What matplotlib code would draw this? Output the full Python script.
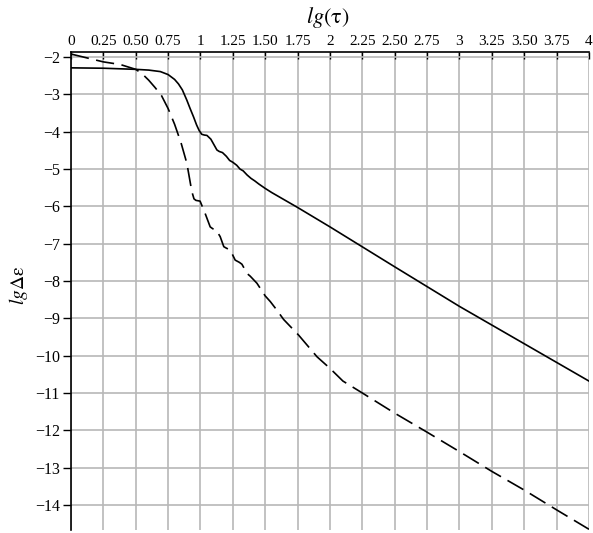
import numpy as np
import matplotlib.pyplot as plt

plt.rcParams['font.family'] = ['Liberation Serif', 'DejaVu Serif']
plt.rcParams['mathtext.fontset'] = 'stix'

# solid curve
x_solid = [0, 0.25, 0.5, 0.6, 0.69, 0.75, 0.8, 0.83, 0.86, 0.894, 0.92, 0.946, 0.97, 0.99,
           1.01, 1.03, 1.05, 1.08, 1.127, 1.145, 1.17, 1.2, 1.225, 1.25, 1.28, 1.305,
           1.33, 1.36, 1.39, 1.42, 1.45, 1.5, 1.55, 1.6, 1.65, 1.7, 1.75,
           2.0, 2.5, 3.0, 3.5, 4.0]
y_solid = [-2.29, -2.30, -2.33, -2.35, -2.39, -2.47, -2.6, -2.72, -2.88, -3.15, -3.38, -3.6, -3.82, -3.97,
           -4.07, -4.09, -4.1, -4.2, -4.49, -4.53, -4.56, -4.66, -4.77, -4.82, -4.9, -5.0,
           -5.05, -5.16, -5.25, -5.32, -5.4, -5.52, -5.63, -5.73, -5.83, -5.93, -6.03,
           -6.55, -7.62, -8.68, -9.68, -10.68]

# dashed curve
x_dash = [0, 0.25, 0.38, 0.5, 0.55, 0.6, 0.65, 0.7, 0.75, 0.8, 0.85, 0.895, 0.933,
          0.95, 0.965, 0.997, 1.036, 1.075, 1.095, 1.12, 1.152, 1.18, 1.2, 1.23,
          1.268, 1.3, 1.32, 1.36, 1.384, 1.436, 1.5, 1.539, 1.59, 1.642, 1.758,
          1.9, 2.0, 2.1, 2.25, 2.5, 2.75, 3.0, 3.25, 3.5, 3.75, 4.0]
y_dash = [-1.92, -2.13, -2.2, -2.33, -2.45, -2.62, -2.82, -3.04, -3.38, -3.8, -4.3, -4.85, -5.6,
          -5.8, -5.84, -5.86, -6.19, -6.55, -6.6, -6.63, -6.81, -7.08, -7.12, -7.17,
          -7.44, -7.5, -7.55, -7.8, -7.87, -8.06, -8.4, -8.55, -8.78, -9.03, -9.45,
          -10.03, -10.34, -10.68, -11.0, -11.54, -12.05, -12.57, -13.1, -13.6, -14.13, -14.65]

x_ticks = np.arange(0, 4.01, 0.25)
x_labels = ['0', '0.25', '0.50', '0.75', '1', '1.25', '1.50', '1.75', '2',
            '2.25', '2.50', '2.75', '3', '3.25', '3.50', '3.75', '4']
y_ticks = list(range(-2, -15, -1))

fig = plt.figure(figsize=(5.93, 5.33), dpi=100)
ax = fig.add_axes([0.1197, 0.0056, 0.8735, 0.8968])

ax.plot(x_solid, y_solid, color='black', lw=1.2)
ax.plot(x_dash, y_dash, color='black', lw=1.2, linestyle=(0, (11, 4.5)))

ax.set_xlim(0, 4)
ax.set_ylim(-14.67, -1.866)

ax.xaxis.tick_top()
ax.set_xticks(x_ticks)
ax.set_xticklabels(x_labels, fontsize=11)
ax.set_yticks(y_ticks)
ax.set_yticklabels([f'\u2212{abs(v)}' for v in y_ticks], fontsize=11.5)
ax.tick_params(axis='x', direction='in', length=5, width=1, pad=3, top=True, bottom=False)
ax.tick_params(axis='y', direction='out', length=6, width=1, pad=2)

ax.grid(True, color='#b8b8b8', lw=1.2)
ax.set_axisbelow(True)

for s in ['right', 'bottom']:
    ax.spines[s].set_visible(False)
ax.spines['top'].set_linewidth(1.2)
ax.spines['left'].set_linewidth(1.2)

fig.text(0.553, 0.968, r'$lg\left(\mathrm{\tau}\right)$', fontsize=16, ha='center', va='center')
fig.text(0.032, 0.465, r'$lg\Delta\mathrm{\varepsilon}$', fontsize=14, ha='center', va='center',
         rotation=90)

fig.savefig('out.png', dpi=100)
